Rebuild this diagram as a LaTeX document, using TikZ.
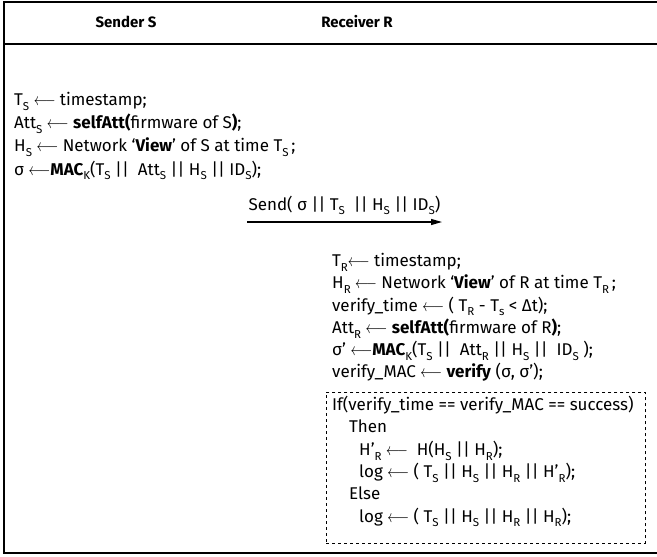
\documentclass[tikz,border=0pt]{standalone}
\usepackage{fontspec}
\usepackage{graphicx}
\setmainfont{Fira Sans}
\usetikzlibrary{arrows.meta}
\newcommand{\lo}[1]{\raisebox{-0.55ex}{\fontsize{11.5}{12}\selectfont #1}}
\newcommand{\lar}{\scalebox{0.78}[1]{$\longleftarrow$}}

\begin{document}
\begin{tikzpicture}[x=1pt,y=-1pt,
        font=\fontsize{17}{22.3}\selectfont,
        block/.style={anchor=north west,align=left,inner sep=0pt},
        head/.style={font=\fontsize{15}{16}\bfseries}]
    \useasboundingbox (0,0) rectangle (657,557);
    % outer frame and the rule under the header
    \draw[line width=1.2pt] (657,2) -- (4,2) -- (4,553) -- (657,553);
    \draw[line width=1.2pt] (4,44) -- (657,44);
    \node[head] (S) at (126,22) {Sender S};
    \node[head] (R) at (357,22) {Receiver R};
    % sender side
    \node[block,font=\fontsize{17}{23.2}\selectfont] (sblock) at (14,92) {%
        T\lo{S} \lar\ timestamp;\\
        Att\lo{S} \lar\ \textbf{selfAtt(}firmware of S\textbf{)};\\
        H\lo{S} \lar\ Network ‘\textbf{View}’ of S at time T\lo{S}\,;\\
        σ \lar\textbf{MAC}\lo{K}(T\lo{S} ||\ \ Att\lo{S} || H\lo{S} || ID\lo{S});};
    % the message
    \coordinate (tx) at (247,222);
    \coordinate (rx) at (442,222);
    \draw[-{Triangle[length=11pt,width=6pt]},line width=1.2pt] (tx) -- node[above=3pt]{Send( σ || T\lo{S}\ \ || H\lo{S} || ID\lo{S})} (rx);
    % receiver side
    \node[block] (rblock) at (332,253) {%
        T\lo{R}\lar\ timestamp;\\
        H\lo{R} \lar\ Network ‘\textbf{View}’ of R at time T\lo{R}\,;\\
        verify\_time \lar\ ( T\lo{R} - T\lo{s} < Δt);\\
        Att\lo{R} \lar\ \textbf{selfAtt(}firmware of R\textbf{)};\\
        σ’ \lar\textbf{MAC}\lo{K}(T\lo{S} ||\ \ Att\lo{R} || H\lo{S} ||\ \ ID\lo{S} );\\
        verify\_MAC \lar\ \textbf{verify} (σ, σ’);};
    % the check, in a dashed frame
    \node[draw,dashed,line width=0.8pt,anchor=north west,
          minimum width=319pt,minimum height=151pt] (frame) at (326,392) {};
    \node[block] (check) at (332,396) {%
        If(verify\_time == verify\_MAC == success)\\
        \hspace{17pt}Then\\
        \hspace{27pt}H’\lo{R} \lar\ \ H(H\lo{S} || H\lo{R});\\
        \hspace{27pt}log \lar\ ( T\lo{S} || H\lo{S} || H\lo{R} || H’\lo{R});\\
        \hspace{17pt}Else\\
        \hspace{27pt}log \lar\ ( T\lo{S} || H\lo{S} || H\lo{R} || H\lo{R});};
\end{tikzpicture}
\end{document}
